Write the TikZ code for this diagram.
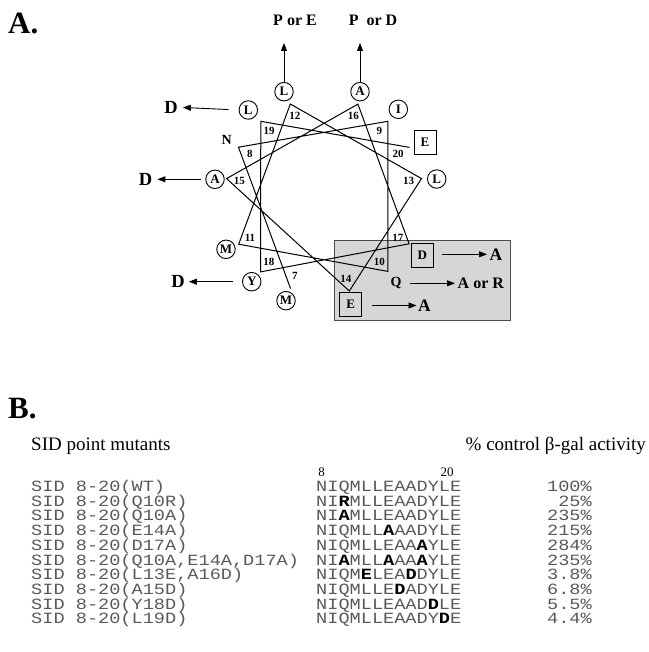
\documentclass[tikz,border=0pt]{standalone}
\usepackage{fontspec}
\setmainfont{Liberation Serif}
\setmonofont{Liberation Mono}
\usetikzlibrary{calc,arrows.meta}
\newcommand\mbold[1]{\textcolor{black}{\textbf{#1}}}
\newcommand\squash[1]{\scalebox{1}[0.84]{#1}}
\tikzset{
 res/.style={circle,draw,line width=0.9pt,minimum size=18.5pt,inner sep=0pt,font=\fontsize{13}{13}\selectfont\bfseries},
 ressq/.style={rectangle,draw,line width=0.9pt,minimum width=22pt,minimum height=24pt,inner sep=0pt,font=\fontsize{13}{13}\selectfont\bfseries},
 resfree/.style={inner sep=1pt,font=\fontsize{14}{14}\selectfont\bfseries},
 num/.style={inner sep=0pt,font=\fontsize{11}{11}\selectfont\bfseries},
 arr/.style={-{Triangle[length=8pt,width=6pt]},line width=0.9pt},
 dlab/.style={inner sep=1pt,font=\fontsize{18.5}{18.5}\selectfont\bfseries},
 plab/.style={inner sep=1pt,font=\fontsize{16}{16}\selectfont\bfseries},
 blab/.style={inner sep=1pt,font=\fontsize{17.5}{17.5}\selectfont\bfseries},
 helix/.style={line width=1pt},
 panel/.style={inner sep=0pt,font=\fontsize{31}{31}\selectfont\bfseries},
 head/.style={inner sep=0pt,font=\fontsize{19}{19}\selectfont},
 posnum/.style={inner sep=0pt,anchor=base,font=\fontsize{13}{13}\selectfont},
 mono/.style={inner sep=0pt,text=black!65,font=\fontsize{18.6}{18.6}\selectfont\ttfamily},
 graybox/.style={fill=black!16,draw=black!70,line width=0.8pt}
}
\begin{document}
\begin{tikzpicture}[x=1pt,y=-1pt]
\useasboundingbox (0,0) rectangle (648,652);
% ---------- panel A ----------
\node[panel,anchor=west] (pA) at (8,23) {A.};
\draw[graybox] (334.3,240.7) rectangle (510,320);
\coordinate (C) at (324,196);
\coordinate (v7) at (290.5,288.5);
\coordinate (v8) at (238.5,147.2);
\coordinate (v9) at (387.8,121.3);
\coordinate (v10) at (387.8,271.4);
\coordinate (v11) at (238.7,244.2);
\coordinate (v12) at (290.3,104);
\coordinate (v13) at (421.5,178.6);
\coordinate (v14) at (349.3,291);
\coordinate (v15) at (226.6,178.6);
\coordinate (v16) at (357.9,104.1);
\coordinate (v17) at (409.1,243.8);
\coordinate (v18) at (260.5,271.9);
\coordinate (v19) at (260.8,121.3);
\coordinate (v20) at (409.5,147.4);
\draw[helix] (v7) -- (v8) -- (v9) -- (v10) -- (v11) -- (v12) -- (v13) -- (v14)
  -- (v15) -- (v16) -- (v17) -- (v18) -- (v19) -- (v20);
\foreach \n in {7,...,20}{
  \node[num] (n\n) at ($(v\n)!13pt!(C)$) {\n};
}
% residues
\node[res] (r7) at (286,300.7) {M};
\node[resfree] (r8) at (226.7,140) {N};
\node[res] (r9) at (398.3,109.3) {I};
\node[resfree] (r10) at (396,283.3) {Q};
\node[res] (r11) at (226,249.3) {M};
\node[res] (r12) at (284,91.7) {L};
\node[res] (r13) at (436.7,179) {L};
\node[ressq] (r14) at (350.7,304.3) {E};
\node[res] (r15) at (215,179.3) {A};
\node[res] (r16) at (360,91.7) {A};
\node[ressq] (r17) at (422.3,255.7) {D};
\node[res] (r18) at (251.7,281.7) {Y};
\node[res] (r19) at (248.3,110) {L};
\node[ressq] (r20) at (425,142.7) {E};
% substitutions
\node[plab] (s12) at (295,20) {P or E};
\node[plab] (s16) at (373,20) {P\ \ or D};
\coordinate (t12) at (284,43);
\coordinate (t16) at (360,43);
\draw[arr] (r12) -- (t12);
\draw[arr] (r16) -- (t16);
\node[dlab] (s19) at (171,107.3) {D};
\node[dlab] (s15) at (145.5,179.3) {D};
\node[dlab] (s18) at (178,281.7) {D};
\draw[arr,shorten <=10pt,shorten >=4pt] (r19.west) -- (s19.east);
\draw[arr,shorten <=4.5pt,shorten >=4pt] (r15.west) -- (s15.east);
\draw[arr,shorten <=9.5pt,shorten >=3pt] (r18.west) -- (s18.east);
\node[blab,anchor=west] (s17) at (488.5,254.3) {A};
\node[plab,anchor=west] (s10) at (456.5,283.3) {A or R};
\node[blab,anchor=west] (s14) at (417,305.5) {A};
\draw[arr,shorten <=8.5pt,shorten >=1.5pt] (r17.east |- s17.west) -- (s17.west);
\draw[arr,shorten <=7pt,shorten >=1.5pt] (r10.east) -- (s10.west);
\draw[arr,shorten <=10pt,shorten >=0.5pt] (r14.east |- s14.west) -- (s14.west);
% ---------- panel B ----------
\node[panel,anchor=west] (pB) at (8,409) {B.};
\node[head,anchor=base west] (h1) at (31,450) {SID point mutants};
\node[head,anchor=base east] (h2) at (646,450) {\% control β-gal activity};
\node[posnum] (p8) at (321.5,476) {8};
\node[posnum] (p20) at (447,476) {20};
\foreach \k/\name/\seq/\pct in {
 0/{SID 8-20(WT)}/{NIQMLLEAADYLE}/{100\%},
 1/{SID 8-20(Q10R)}/{NI\mbold{R}MLLEAADYLE}/{25\%},
 2/{SID 8-20(Q10A)}/{NI\mbold{A}MLLEAADYLE}/{235\%},
 3/{SID 8-20(E14A)}/{NIQMLL\mbold{A}AADYLE}/{215\%},
 4/{SID 8-20(D17A)}/{NIQMLLEAA\mbold{A}YLE}/{284\%},
 5/{SID 8-20(Q10A,E14A,D17A)}/{NI\mbold{A}MLL\mbold{A}AA\mbold{A}YLE}/{235\%},
 6/{SID 8-20(L13E,A16D)}/{NIQM\mbold{E}LEA\mbold{D}DYLE}/{3.8\%},
 7/{SID 8-20(A15D)}/{NIQMLLE\mbold{D}ADYLE}/{6.8\%},
 8/{SID 8-20(Y18D)}/{NIQMLLEAAD\mbold{D}LE}/{5.5\%},
 9/{SID 8-20(L19D)}/{NIQMLLEAADY\mbold{D}E}/{4.4\%}}{
  \pgfmathsetmacro\yy{491.5+14.7*\k}
  \node[mono,anchor=base west] (m\k) at (31,\yy) {\squash{\name}};
  \node[mono,anchor=base west] (q\k) at (316,\yy) {\squash{\seq}};
  \node[mono,anchor=base east] (a\k) at (592,\yy) {\squash{\pct}};
}
\end{tikzpicture}
\end{document}
